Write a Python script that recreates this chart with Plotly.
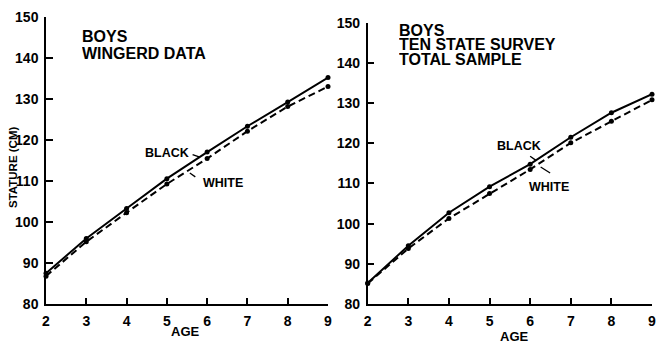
import plotly.graph_objects as go

ages = [2, 3, 4, 5, 6, 7, 8, 9]
wingerd_black = [87.5, 96.0, 103.3, 110.6, 117.1, 123.4, 129.3, 135.3]
wingerd_white = [86.8, 95.2, 102.3, 109.3, 115.5, 122.2, 128.2, 133.1]
tss_black = [85.2, 94.5, 102.7, 109.2, 114.8, 121.5, 127.6, 132.2]
tss_white = [85.1, 93.8, 101.3, 107.5, 113.5, 120.1, 125.5, 130.8]
y_ticks = [80, 90, 100, 110, 120, 130, 140, 150]

NARROW = "Liberation Sans Narrow, Liberation Sans, Arial, sans-serif"
SANS = "Liberation Sans, Arial, sans-serif"

fig = go.Figure()

def add_pair(black, white, xa, ya):
    fig.add_trace(go.Scatter(x=ages, y=black, mode="lines+markers", xaxis=xa, yaxis=ya,
                             line=dict(color="black", width=2),
                             marker=dict(color="black", size=5), showlegend=False, cliponaxis=False))
    fig.add_trace(go.Scatter(x=ages, y=white, mode="lines+markers", xaxis=xa, yaxis=ya,
                             line=dict(color="black", width=2, dash="7px,4px"),
                             marker=dict(color="black", size=5), showlegend=False, cliponaxis=False))

add_pair(wingerd_black, wingerd_white, "x", "y")
add_pair(tss_black, tss_white, "x2", "y2")

ax_common = dict(showgrid=False, zeroline=False, showline=True, linecolor="black", linewidth=1.5,
                 ticks="inside", tickcolor="black", tickwidth=1.5, automargin=False,
                 ticklabeloverflow="allow",
                 tickfont=dict(family=NARROW, size=14, color="black", weight="bold"))

fig.update_layout(
    width=656, height=343,
    margin=dict(l=0, r=0, t=0, b=0, autoexpand=False),
    paper_bgcolor="white", plot_bgcolor="white",
    xaxis=dict(domain=[46/656, 328/656], range=[2, 9], tickvals=ages, ticklen=6, anchor="y",
               ticklabelstandoff=3, **ax_common),
    yaxis=dict(domain=[(343-304)/343, (343-17.3)/343], range=[80, 150], tickvals=y_ticks, ticklen=7,
               anchor="x", ticklabelstandoff=3, **ax_common),
    xaxis2=dict(domain=[367.7/656, 652/656], range=[2, 9], tickvals=ages, ticklen=6, anchor="y2",
                ticklabelstandoff=3, **ax_common),
    yaxis2=dict(domain=[(343-304)/343, (343-22.7)/343], range=[80, 150], tickvals=y_ticks, ticklen=7,
                anchor="x2", ticklabelstandoff=3, **ax_common),
)

anns = []
def txt(text, x, y, size=16, family=SANS, xanchor="left", angle=0, height=None):
    d = dict(text=text, x=x/656, y=1-y/343, xref="paper", yref="paper", showarrow=False,
             xanchor=xanchor, yanchor="middle", textangle=angle, borderpad=0,
             font=dict(family=family, size=size, color="black"))
    if height:
        d["height"] = height
    anns.append(d)

# titles
txt("<b>BOYS</b>", 81, 37, height=15)
txt("<b>WINGERD DATA</b>", 81, 53, height=15)
txt("<b>BOYS</b>", 398, 30, height=14)
txt("<b>TEN STATE SURVEY</b>", 398, 44.5, height=14)
txt("<b>TOTAL SAMPLE</b>", 398, 59, height=14)
# axis titles
txt("<b>STATURE (CM)</b>", 12.5, 167.5, size=11.5, family=NARROW, xanchor="center", angle=-90)
txt("<b>AGE</b>", 186, 331, size=13, family=NARROW, xanchor="center")
txt("<b>AGE</b>", 514, 336, size=13, family=NARROW, xanchor="center")
# line labels
txt("<b>BLACK</b>", 144, 153, size=12.5, family=SANS)
txt("<b>WHITE</b>", 202, 183, size=12.5, family=SANS)
txt("<b>BLACK</b>", 496, 146, size=12.5, family=SANS)
txt("<b>WHITE</b>", 528, 187, size=12.5, family=SANS)

def arrow(xa, ya, x, y, ax, ay):
    anns.append(dict(text="", x=x, y=y, xref=xa, yref=ya, ax=ax, ay=ay, showarrow=True,
                     arrowhead=0, arrowwidth=1.3, arrowcolor="black"))

arrow("x", "y", 5.80, 115.9, -8, -3)
arrow("x", "y", 5.57, 112.0, 7, 5)
arrow("x2", "y2", 6.135, 115.8, -7, -5)
arrow("x2", "y2", 6.258, 114.1, 11, 7)

fig.update_layout(annotations=anns)
fig.write_html("out.html")
